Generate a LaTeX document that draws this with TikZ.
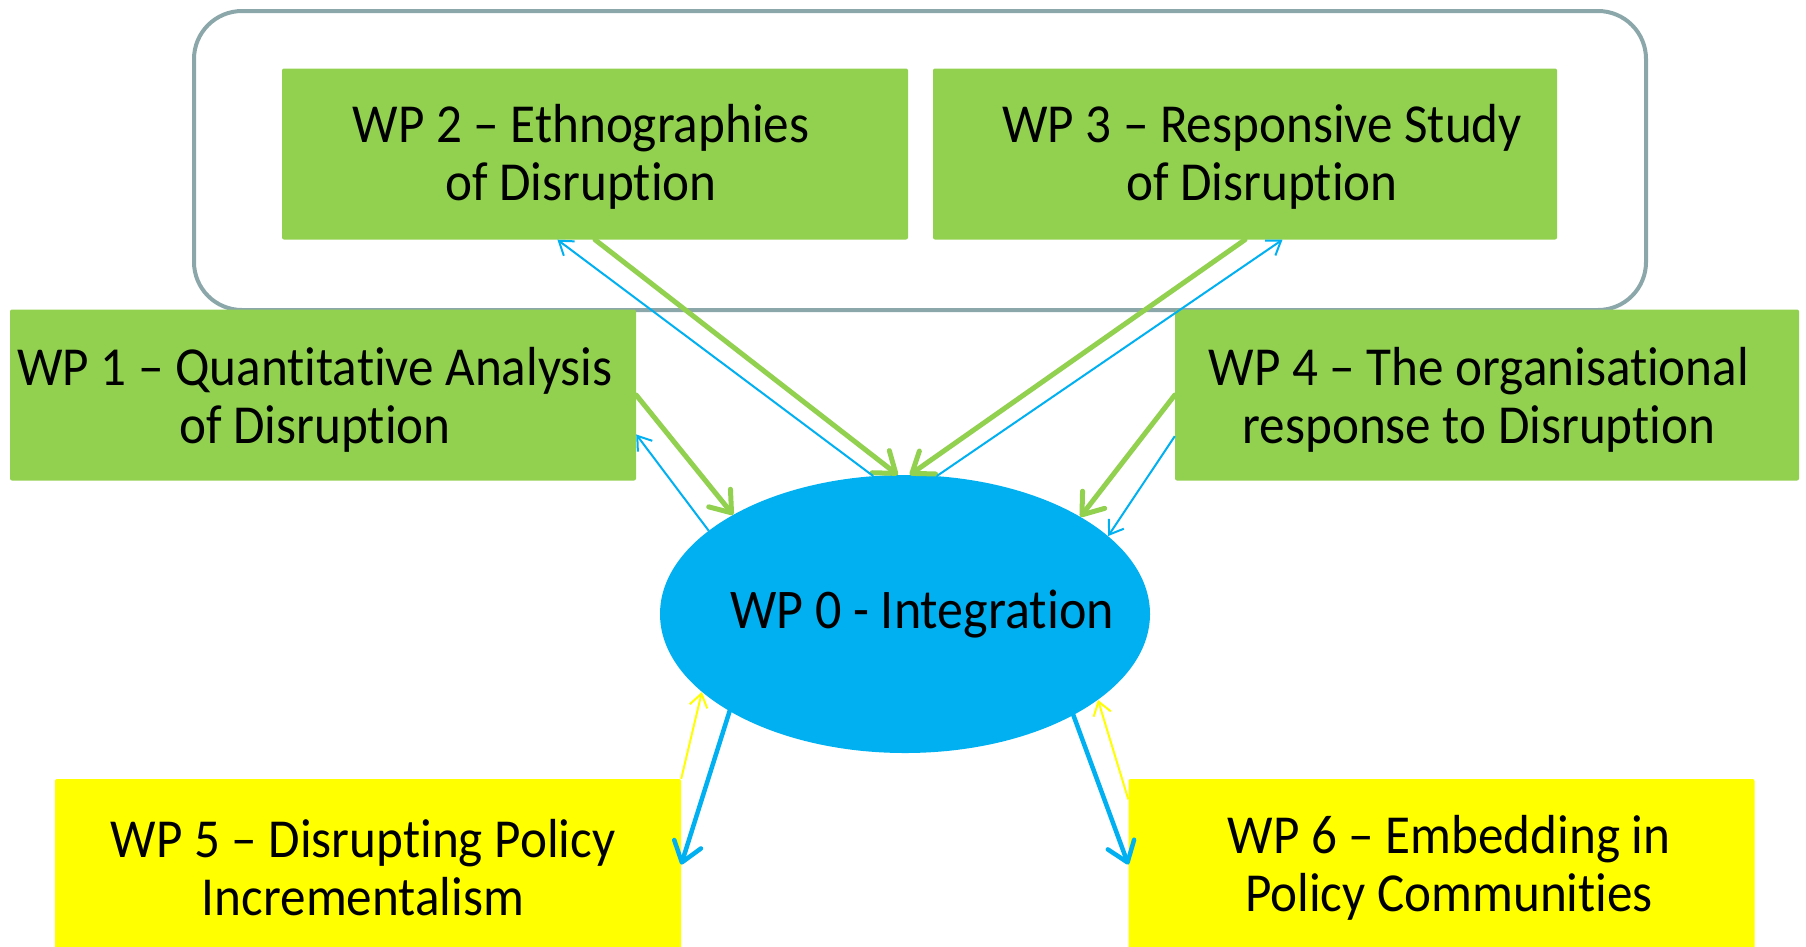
\documentclass[tikz,border=0pt]{standalone}
\usepackage{fontspec}
\setmainfont{Carlito}[FakeStretch=0.93,RawFeature={-liga;-clig;-calt;-dlig}]
\usetikzlibrary{arrows.meta,shapes.geometric,calc}
\definecolor{wpgreen}{HTML}{92D050}
\definecolor{wpblue}{HTML}{00B0F0}
\definecolor{wpyellow}{HTML}{FFFF00}
\definecolor{framegray}{HTML}{8CA7AA}
\begin{document}
\begin{tikzpicture}[x=1pt,y=-1pt,
  box/.style={rectangle, rounded corners=2pt, minimum width=626pt, minimum height=171pt, inner sep=0pt, draw=none},
  gbox/.style={box, fill=wpgreen},
  ybox/.style={box, fill=wpyellow},
  lbl/.style={align=center, font=\fontsize{55}{58}\selectfont, inner sep=0pt, text=black},
  bigarrow/.style={line width=5pt, line cap=round, -{Straight Barb[length=19pt,width=28pt,line cap=round,line join=round]}},
  smallarrow/.style={line width=2pt, -{Straight Barb[length=13pt,width=18pt]}}
]
\useasboundingbox (0,0) rectangle (1806,946);
% group frame
\node[draw=framegray, line width=4pt, rounded corners=48pt, minimum width=1452pt, minimum height=299pt, inner sep=0pt] (group) at (920,160.5) {};
% boxes
\node[gbox] (wp2) at (595,154) {};
\node[gbox, minimum width=624pt] (wp3) at (1245,154) {};
\node[gbox] (wp1) at (323,395) {};
\node[gbox, minimum width=624pt] (wp4) at (1487,395) {};
\node[ybox] (wp5) at (368,864.5) {};
\node[ybox] (wp6) at (1441.5,864.5) {};
\node[ellipse, fill=wpblue, minimum width=490pt, minimum height=278pt, inner sep=0pt] (wp0) at (905,614) {};
% labels
\node[lbl] (t2) at (581,157) {WP 2 – Ethnographies\\of Disruption};
\node[lbl] (t3) at (1262,157) {WP 3 – Responsive Study\\of Disruption};
\node[lbl] (t1) at (315,400) {WP 1 – Quantitative Analysis\\of Disruption};
\node[lbl] (t4) at (1479,400) {WP 4 – The organisational\\response to Disruption};
\node[lbl] (t5) at (363,868) {WP 5 – Disrupting Policy\\Incrementalism};
\node[lbl] (t6) at (1449,868) {WP 6 – Embedding in\\Policy Communities};
\node[lbl, font=\fontsize{56}{58}\selectfont] (t0) at (922,614) {WP 0 - Integration};
% connectors WP2
\draw[bigarrow, wpgreen] (wp2.south) -- (wp0.93);
\draw[smallarrow, wpblue] (wp0.103.5) -- ($(wp2.south west)!0.44!(wp2.south east)$);
% WP3
\draw[bigarrow, wpgreen] (wp3.south) -- (wp0.88);
\draw[smallarrow, wpblue] (wp0.77.7) -- ($(wp3.south west)!0.56!(wp3.south east)$);
% WP1
\draw[bigarrow, wpgreen] (wp1.east) -- (wp0.150.4);
\draw[smallarrow, wpblue] (wp0.157) -- ($(wp1.north east)!0.73!(wp1.south east)$);
% WP4
\draw[bigarrow, wpgreen] (wp4.west) -- (wp0.29.9);
\draw[smallarrow, wpblue] ($(wp4.north west)!0.74!(wp4.south west)$) -- (wp0.21.5);
% WP5
\draw[smallarrow, wpyellow] (wp5.north east) -- (wp0.201.3);
\draw[bigarrow, wpblue, line width=4.5pt] (wp0.209.9) -- ($(wp5.north east)!0.5!(wp5.south east)$);
% WP6
\draw[smallarrow, wpyellow] ($(wp6.north west)!0.12!(wp6.south west)$) -- (wp0.336);
\draw[bigarrow, wpblue, line width=4.5pt] (wp0.329.6) -- ($(wp6.north west)!0.5!(wp6.south west)$);
\end{tikzpicture}
\end{document}
